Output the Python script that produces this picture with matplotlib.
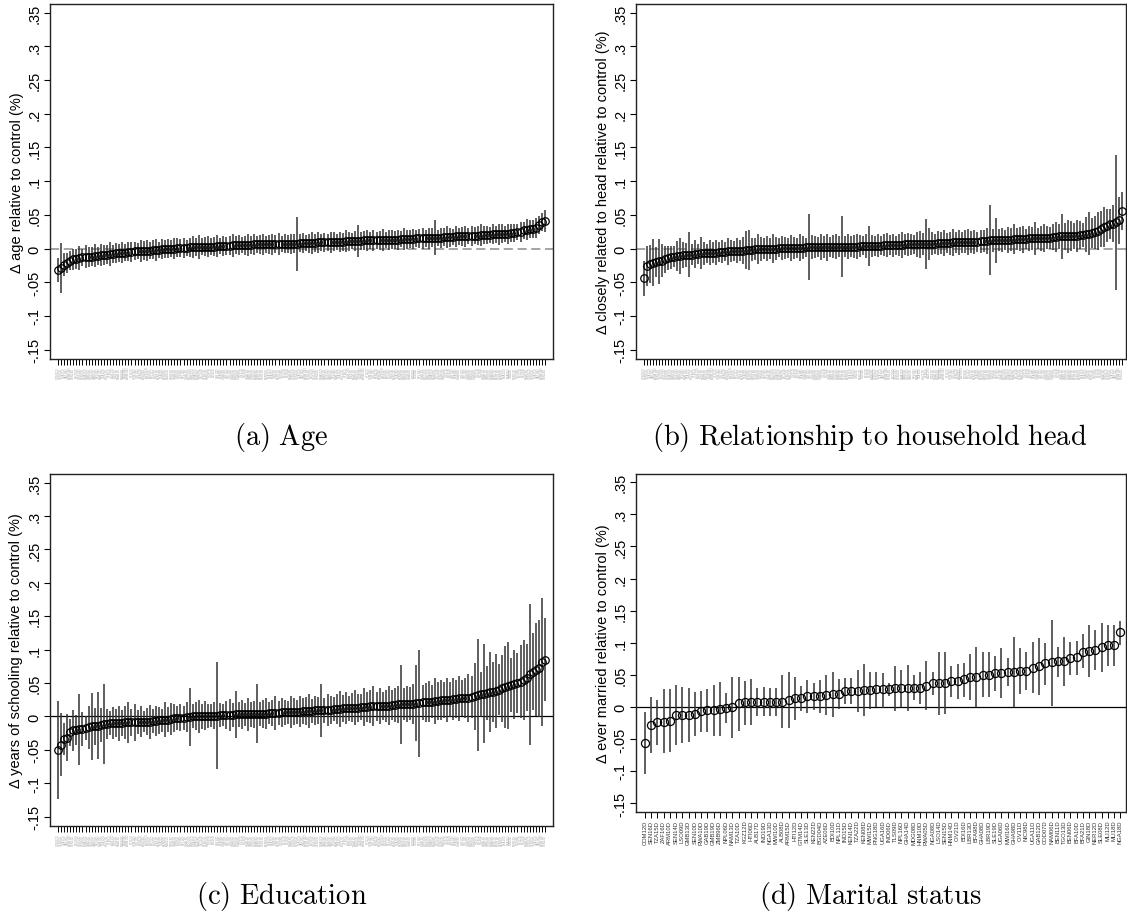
import matplotlib
matplotlib.use("Agg")
import matplotlib.pyplot as plt
import numpy as np

plt.rcParams['font.family'] = ['Liberation Sans', 'DejaVu Sans']
plt.rcParams['mathtext.fontset'] = 'cm'

# ---------------- data ----------------
age_est = [
    -0.032, -0.029, -0.024, -0.021, -0.018, -0.016, -0.015, -0.014, -0.013, -0.012,
    -0.012, -0.012, -0.011, -0.011, -0.010, -0.010, -0.009, -0.008, -0.008, -0.007,
    -0.007, -0.006, -0.006, -0.005, -0.005, -0.004, -0.004, -0.004, -0.003, -0.003,
    -0.003, -0.002, -0.002, -0.002, -0.001, -0.001, 0.000, 0.000, 0.000, 0.001,
    0.001, 0.001, 0.001, 0.002, 0.002, 0.002, 0.002, 0.003, 0.003, 0.003,
    0.003, 0.003, 0.004, 0.004, 0.004, 0.004, 0.004, 0.005, 0.005, 0.005,
    0.005, 0.005, 0.005, 0.005, 0.006, 0.006, 0.006, 0.006, 0.006, 0.006,
    0.006, 0.007, 0.007, 0.007, 0.007, 0.007, 0.007, 0.007, 0.007, 0.008,
    0.008, 0.008, 0.008, 0.008, 0.008, 0.009, 0.009, 0.009, 0.009, 0.009,
    0.010, 0.010, 0.010, 0.010, 0.011, 0.011, 0.011, 0.011, 0.011, 0.011,
    0.012, 0.012, 0.012, 0.012, 0.012, 0.012, 0.013, 0.013, 0.013, 0.013,
    0.013, 0.013, 0.014, 0.014, 0.014, 0.014, 0.014, 0.015, 0.015, 0.015,
    0.015, 0.015, 0.016, 0.016, 0.016, 0.016, 0.017, 0.017, 0.017, 0.017,
    0.018, 0.018, 0.018, 0.018, 0.019, 0.019, 0.019, 0.019, 0.020, 0.020,
    0.020, 0.020, 0.021, 0.021, 0.021, 0.022, 0.022, 0.022, 0.023, 0.023,
    0.024, 0.025, 0.027, 0.028, 0.029, 0.029, 0.030, 0.035, 0.039, 0.041]
age_err = [
    .018, .037, .017, .015, .014, .016, .015, .018, .013, .017,
    .015, .014, .017, .013, .016, .015, .014, .018, .013, .015,
    .013, .016, .012, .014, .015, .013, .012, .016, .014, .015,
    .013, .014, .016, .012, .015, .013, .014, .012, .016, .014,
    .013, .015, .012, .014, .016, .013, .018, .012, .014, .015,
    .013, .014, .016, .012, .015, .013, .014, .017, .013, .015,
    .012, .014, .016, .013, .015, .012, .014, .016, .013, .014,
    .015, .013, .016, .012, .014, .013, .015, .014, .040, .013,
    .015, .012, .014, .016, .013, .015, .012, .014, .013, .016,
    .014, .012, .015, .013, .016, .014, .012, .015, .024, .013,
    .014, .016, .012, .015, .013, .014, .016, .012, .015, .014,
    .013, .015, .012, .016, .014, .013, .015, .012, .014, .016,
    .013, .015, .014, .026, .012, .015, .013, .016, .014, .012,
    .015, .013, .014, .016, .012, .015, .013, .014, .016, .013,
    .014, .012, .015, .013, .016, .014, .012, .015, .013, .014,
    .012, .015, .013, .016, .014, .013, .015, .014, .013, .016]

rel_est = [
    -0.044, -0.026, -0.023, -0.021, -0.020, -0.019, -0.018, -0.016, -0.014, -0.013,
    -0.012, -0.011, -0.011, -0.010, -0.010, -0.009, -0.009, -0.008, -0.008, -0.007,
    -0.007, -0.007, -0.006, -0.006, -0.006, -0.005, -0.005, -0.005, -0.004, -0.004,
    -0.004, -0.003, -0.003, -0.003, -0.002, -0.002, -0.002, -0.001, -0.001, -0.001,
    0.000, 0.000, 0.000, 0.000, 0.000, 0.001, 0.001, 0.001, 0.001, 0.001,
    0.001, 0.001, 0.001, 0.001, 0.002, 0.002, 0.002, 0.002, 0.002, 0.002,
    0.002, 0.002, 0.002, 0.003, 0.003, 0.003, 0.003, 0.003, 0.003, 0.003,
    0.003, 0.003, 0.004, 0.004, 0.004, 0.004, 0.004, 0.004, 0.004, 0.004,
    0.005, 0.005, 0.005, 0.005, 0.005, 0.005, 0.005, 0.006, 0.006, 0.006,
    0.006, 0.006, 0.006, 0.007, 0.007, 0.007, 0.007, 0.007, 0.008, 0.008,
    0.008, 0.008, 0.008, 0.009, 0.009, 0.009, 0.009, 0.010, 0.010, 0.010,
    0.010, 0.010, 0.011, 0.011, 0.011, 0.012, 0.012, 0.012, 0.013, 0.013,
    0.013, 0.013, 0.013, 0.014, 0.014, 0.014, 0.014, 0.014, 0.015, 0.015,
    0.015, 0.015, 0.015, 0.016, 0.016, 0.016, 0.017, 0.017, 0.018, 0.018,
    0.018, 0.018, 0.019, 0.019, 0.019, 0.020, 0.020, 0.021, 0.022, 0.023,
    0.024, 0.026, 0.029, 0.032, 0.034, 0.036, 0.037, 0.039, 0.042, 0.056]
rel_err = [
    .026, .030, .028, .035, .022, .033, .024, .020, .018, .017,
    .016, .022, .027, .019, .018, .033, .016, .021, .015, .024,
    .017, .014, .019, .016, .018, .015, .017, .014, .020, .016,
    .015, .018, .016, .020, .028, .030, .017, .016, .022, .018,
    .016, .019, .015, .021, .017, .014, .018, .016, .015, .019,
    .016, .015, .020, .017, .014, .049, .018, .016, .015, .019,
    .016, .020, .015, .017, .019, .015, .045, .016, .018, .015,
    .017, .019, .016, .014, .018, .030, .016, .015, .017, .014,
    .016, .018, .015, .017, .014, .016, .019, .015, .017, .016,
    .014, .018, .020, .016, .037, .024, .017, .015, .018, .016,
    .019, .015, .017, .020, .016, .018, .015, .017, .019, .016,
    .018, .015, .017, .016, .019, .052, .017, .033, .016, .018,
    .015, .019, .017, .022, .016, .018, .020, .015, .019, .017,
    .025, .016, .018, .021, .017, .016, .019, .022, .018, .033,
    .020, .025, .022, .019, .024, .021, .018, .026, .032, .022,
    .024, .028, .026, .030, .025, .022, .028, .100, .035, .028]

edu_est = [
    -0.050, -0.042, -0.034, -0.032, -0.024, -0.021, -0.020, -0.019, -0.019, -0.017,
    -0.016, -0.015, -0.015, -0.014, -0.013, -0.011, -0.011, -0.010, -0.010, -0.010,
    -0.010, -0.010, -0.009, -0.009, -0.009, -0.009, -0.008, -0.008, -0.008, -0.008,
    -0.008, -0.007, -0.007, -0.006, -0.006, -0.005, -0.005, -0.004, -0.003, -0.003,
    -0.002, -0.002, -0.001, -0.001, 0.000, 0.000, 0.000, 0.000, 0.001, 0.001,
    0.001, 0.001, 0.001, 0.002, 0.002, 0.002, 0.002, 0.002, 0.003, 0.003,
    0.003, 0.003, 0.003, 0.003, 0.003, 0.004, 0.004, 0.004, 0.004, 0.005,
    0.005, 0.005, 0.005, 0.006, 0.006, 0.006, 0.006, 0.007, 0.007, 0.007,
    0.008, 0.008, 0.008, 0.008, 0.009, 0.009, 0.009, 0.009, 0.010, 0.010,
    0.011, 0.011, 0.011, 0.012, 0.012, 0.012, 0.013, 0.013, 0.013, 0.014,
    0.014, 0.014, 0.015, 0.015, 0.015, 0.015, 0.016, 0.016, 0.016, 0.017,
    0.017, 0.018, 0.018, 0.018, 0.019, 0.019, 0.019, 0.020, 0.020, 0.021,
    0.021, 0.022, 0.022, 0.023, 0.023, 0.024, 0.024, 0.025, 0.025, 0.026,
    0.026, 0.027, 0.027, 0.028, 0.028, 0.029, 0.030, 0.032, 0.033, 0.034,
    0.035, 0.036, 0.037, 0.038, 0.040, 0.042, 0.044, 0.046, 0.047, 0.048,
    0.050, 0.052, 0.055, 0.058, 0.063, 0.067, 0.070, 0.072, 0.082, 0.085]
edu_err = [
    .073, .047, .024, .035, .020, .030, .022, .053, .025, .018,
    .032, .050, .027, .050, .025, .060, .022, .018, .024, .021,
    .026, .019, .024, .030, .020, .028, .018, .023, .016, .020,
    .025, .018, .022, .020, .017, .026, .019, .024, .021, .018,
    .020, .018, .023, .043, .018, .021, .025, .019, .022, .018,
    .017, .020, .080, .018, .016, .021, .024, .018, .035, .019,
    .022, .017, .025, .019, .020, .044, .018, .021, .023, .016,
    .020, .025, .018, .022, .019, .017, .024, .020, .018, .023,
    .019, .021, .026, .018, .022, .020, .040, .019, .024, .021,
    .018, .023, .027, .020, .024, .019, .022, .026, .021, .020,
    .028, .023, .025, .030, .022, .027, .021, .024, .029, .023,
    .026, .028, .059, .024, .027, .025, .030, .057, .080, .026,
    .029, .031, .025, .034, .028, .030, .027, .033, .026, .031,
    .029, .034, .027, .030, .036, .032, .050, .084, .034, .074,
    .040, .060, .045, .055, .038, .050, .062, .065, .040, .052,
    .045, .055, .060, .050, .105, .058, .070, .073, .096, .062]

mar_labels = [
    "COM12D", "SEN16D", "TZA15D", "ZAF16D", "ARM10D", "SEN14D", "LSO09D", "GMB13D",
    "SEN10D", "RWA10D", "GAB19D", "GMB19D", "ZMB96D", "NPL06D", "NAM13D", "TZA10D",
    "KGZ12D", "HTI06D", "ALB17D", "IND19D", "NGA13D", "MWI10D", "ALB08D", "ARM15D",
    "HTI12D", "GTM14D", "SLE13D", "KEN22D", "BGD04D", "AZE06D", "BDI10D", "NPL11D",
    "IND15D", "KEN14D", "TZA22D", "KEN08D", "MWI15D", "PNG18D", "UGA16D", "IND06D",
    "TLS09D", "NPL16D", "GHA14D", "MDG08D", "HNM10D", "RWA05D", "NGA08D", "LSO14D",
    "SEN15D", "HNM14D", "CIV21D", "BDI16D", "LBR13D", "BFA98D", "GHA08D", "LBR19D",
    "SLE19D", "UGA06D", "MWI16D", "GHA98D", "CIV11D", "NIC98D", "UGA11D", "GAB12D",
    "COD07D", "NAM06D", "BEN11D", "TGO13D", "BEN06D", "BFA10D", "BFA21D", "GIN18D",
    "NER12D", "SLE08D", "MLI12D", "MLI18D", "NGA18D"]
mar_est = [
    -0.056, -0.029, -0.024, -0.023, -0.022, -0.013, -0.013, -0.013, -0.011, -0.007,
    -0.005, -0.005, -0.003, -0.002, -0.001, 0.006, 0.007, 0.007, 0.007, 0.008,
    0.008, 0.008, 0.008, 0.011, 0.013, 0.014, 0.017, 0.017, 0.017, 0.018,
    0.020, 0.020, 0.025, 0.025, 0.025, 0.026, 0.026, 0.027, 0.028, 0.028,
    0.029, 0.029, 0.029, 0.030, 0.030, 0.032, 0.037, 0.037, 0.037, 0.040,
    0.040, 0.043, 0.046, 0.046, 0.050, 0.050, 0.052, 0.053, 0.054, 0.055,
    0.056, 0.056, 0.061, 0.064, 0.069, 0.070, 0.071, 0.072, 0.076, 0.077,
    0.086, 0.087, 0.089, 0.093, 0.096, 0.096, 0.116]
mar_lo = [
    -0.104, -0.072, -0.059, -0.072, -0.070, -0.060, -0.057, -0.055, -0.045, -0.040,
    -0.040, -0.045, -0.045, -0.026, -0.049, -0.037, -0.028, -0.029, -0.015, -0.014,
    -0.014, -0.015, -0.033, -0.033, -0.020, -0.006, -0.010, -0.005, -0.009, -0.013,
    -0.016, -0.003, 0.004, 0.004, -0.008, -0.015, -0.004, -0.001, -0.002, 0.017,
    -0.006, -0.001, -0.006, 0.010, 0.005, -0.005, 0.018, -0.012, -0.011, 0.015,
    0.012, 0.015, 0.010, 0.000, 0.015, 0.015, 0.025, 0.014, 0.032, 0.000,
    0.020, 0.026, 0.021, 0.019, 0.034, 0.002, 0.046, 0.033, 0.050, 0.050,
    0.060, 0.046, 0.057, 0.054, 0.064, 0.064, 0.097]
mar_hi = [
    -0.008, 0.015, 0.010, 0.027, 0.027, 0.034, 0.031, 0.030, 0.023, 0.025,
    0.028, 0.034, 0.039, 0.021, 0.046, 0.046, 0.041, 0.043, 0.030, 0.031,
    0.029, 0.030, 0.050, 0.054, 0.046, 0.033, 0.042, 0.037, 0.042, 0.049,
    0.055, 0.043, 0.045, 0.045, 0.057, 0.066, 0.055, 0.054, 0.052, 0.037,
    0.063, 0.058, 0.065, 0.049, 0.054, 0.071, 0.055, 0.086, 0.085, 0.063,
    0.067, 0.069, 0.082, 0.094, 0.086, 0.086, 0.079, 0.092, 0.076, 0.109,
    0.092, 0.085, 0.101, 0.107, 0.100, 0.135, 0.094, 0.109, 0.101, 0.103,
    0.114, 0.127, 0.120, 0.130, 0.127, 0.128, 0.134]

ytick_vals = [-0.15, -0.1, -0.05, 0, 0.05, 0.1, 0.15, 0.2, 0.25, 0.3, 0.35]
ytick_text = ["-.15", "-.1", "-.05", "0", ".05", ".1", ".15", ".2", ".25", ".3", ".35"]

ylabels = ["\u0394 age relative to control (%)",
           "\u0394 closely related to head relative to control (%)",
           "\u0394 years of schooling relative to control (%)",
           "\u0394 ever married relative to control (%)"]
captions = ["(a)\\ Age", "(b)\\ Relationship\\ to\\ household\\ head",
            "(c)\\ Education", "(d)\\ Marital\\ status"]

# unreadable survey codes under panels a-c: reuse the code list
small_labels = (mar_labels * 3)[:160]

# ---------------- drawing ----------------
W, H = 1127, 920
fig = plt.figure(figsize=(W / 100, H / 100), dpi=100)
fig.patch.set_facecolor("white")


def add_ax(l, r, t, b):
    return fig.add_axes([l / W, 1 - b / H, (r - l) / W, (b - t) / H])


def draw_panel(ax, est, lo, hi, labels, zero_style, lab_size, lab_color, ylabel,
               ms, xpad_l, xpad_r):
    n = len(est)
    x = np.arange(n)
    ax.vlines(x, lo, hi, color="#333333", lw=1.1, zorder=2)
    ax.plot(x, est, linestyle="none", marker="o", ms=ms, mfc="none", mec="black",
            mew=0.9, zorder=3)
    if zero_style == "dash":
        ax.axhline(0, color="#8c8c8c", lw=1.1, ls=(0, (6, 3)), zorder=1)
    else:
        ax.axhline(0, color="black", lw=0.9, zorder=1)
    ax.set_xlim(-xpad_l, n - 1 + xpad_r)
    ax.set_ylim(-0.164, 0.363)
    ax.set_yticks(ytick_vals)
    ax.set_yticklabels(ytick_text, rotation=90, va="center", fontsize=10.5)
    ax.set_xticks(x)
    ax.set_xticklabels(labels, rotation=90, fontsize=lab_size, color=lab_color)
    ax.tick_params(axis="x", length=4, width=0.7, pad=1.5)
    ax.tick_params(axis="y", length=4, width=0.8, pad=2)
    ax.set_ylabel(ylabel, fontsize=10.5, labelpad=3)
    for s in ax.spines.values():
        s.set_linewidth(1.0)
        s.set_color("#222222")


axA = add_ax(50, 553, 5, 360)
draw_panel(axA, age_est, np.array(age_est) - np.array(age_err),
           np.array(age_est) + np.array(age_err), small_labels, "dash", 2.0,
           "#a0a0a0", ylabels[0], 5.4, 2.6, 2.6)

axB = add_ax(636, 1126, 5, 360)
draw_panel(axB, rel_est, np.array(rel_est) - np.array(rel_err),
           np.array(rel_est) + np.array(rel_err), small_labels, "dash", 2.0,
           "#a0a0a0", ylabels[1], 5.4, 2.6, 1.4)

axC = add_ax(50, 553, 475, 827)
draw_panel(axC, edu_est, np.array(edu_est) - np.array(edu_err),
           np.array(edu_est) + np.array(edu_err), small_labels, "solid", 2.0,
           "#a0a0a0", ylabels[2], 5.4, 2.6, 2.6)

axD = add_ax(636, 1126, 475, 813)
draw_panel(axD, mar_est, mar_lo, mar_hi, mar_labels, "solid", 4.2, "#333333",
           ylabels[3], 5.8, 1.4, 0.9)

cap_pos = [(281, 438), (870, 438), (282, 897), (870, 897)]
for (cx, cy), cap in zip(cap_pos, captions):
    fig.text(cx / W, 1 - cy / H, "$\\mathrm{" + cap + "}$", fontsize=20.5,
             ha="center", va="center")

fig.savefig("out.png", dpi=100, facecolor="white")
